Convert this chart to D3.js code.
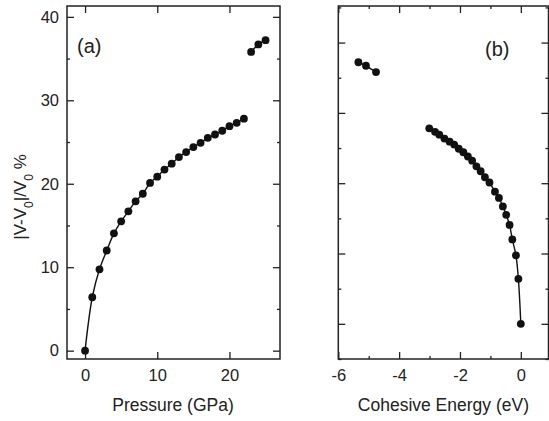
<!DOCTYPE html>
<html>
<head>
<meta charset="utf-8">
<script src="https://cdn.jsdelivr.net/npm/d3@7"></script>
<style>
  body { margin: 0; background: #fff; }
  svg text { font-family: "Liberation Sans", Arial, Helvetica, sans-serif; fill: #222; }
</style>
</head>
<body>
<svg id="chart" width="549" height="421"></svg>
<script>
// pressure (GPa) for each point
var pressure = [0,1,2,3,4,5,6,7,8,9,10,11,12,13,14,15,16,17,18,19,20,21,22, 23,24,25];
// |V-V0|/V0 in %
var volume = [0,6.4,9.75,12.0,14.06,15.5,16.7,17.9,18.8,20.1,20.85,21.7,22.4,23.2,23.8,24.4,24.9,25.5,25.9,26.35,26.9,27.3,27.8, 35.8,36.7,37.2];
// cohesive energy (eV), same points
var cohesive = [0,-0.08,-0.16,-0.28,-0.37,-0.48,-0.59,-0.72,-0.85,-1.03,-1.18,-1.32,-1.46,-1.60,-1.74,-1.89,-2.04,-2.19,-2.34,-2.51,-2.68,-2.82,-3.01, -4.76,-5.09,-5.34];
// the two branches (index ranges)
var branches = [[0, 23], [23, 26]];

var xTicksA = [0, 10, 20];
var xTicksB = [-6, -4, -2, 0];
var yTicks = [0, 10, 20, 30, 40];

var svg = d3.select("#chart");
var fontSize = 16.5;
var plain = function(d){ return String(d); };  // keep hyphen minus like the original

function panel(opts) {
  var g = svg.append("g");
  var x = d3.scaleLinear().domain(opts.xDomain).range([opts.left, opts.right]);
  var y = d3.scaleLinear().domain(opts.yDomain).range([opts.bottom, opts.top]);

  var minorX = d3.range(opts.xDomain[0], opts.xDomain[1], 1).filter(function(v){ return Math.abs(v % opts.xStep) === opts.xStep/2; });
  var minorY = [-5, 5, 15, 25, 35, 45].filter(function(v){ return v >= opts.yDomain[0] && v <= opts.yDomain[1]; });

  function styleAxis(sel) {
    sel.select(".domain").remove();
    sel.selectAll("line").attr("stroke", "#222").attr("stroke-width", 1.3);
    sel.selectAll("text").style("font-size", fontSize + "px").attr("fill", "#222");
  }

  // bottom
  g.append("g").attr("transform", "translate(0," + opts.bottom + ")")
    .call(d3.axisBottom(x).tickValues(opts.xTicks).tickSize(-7).tickPadding(10).tickFormat(plain))
    .call(styleAxis);
  g.append("g").attr("transform", "translate(0," + opts.bottom + ")")
    .call(d3.axisBottom(x).tickValues(minorX).tickSize(-3).tickFormat(""))
    .call(styleAxis);
  // top
  g.append("g").attr("transform", "translate(0," + opts.top + ")")
    .call(d3.axisTop(x).tickValues(opts.xTicks).tickSize(-7).tickFormat(""))
    .call(styleAxis);
  g.append("g").attr("transform", "translate(0," + opts.top + ")")
    .call(d3.axisTop(x).tickValues(minorX).tickSize(-3).tickFormat(""))
    .call(styleAxis);
  // left
  g.append("g").attr("transform", "translate(" + opts.left + ",0)")
    .call(d3.axisLeft(y).tickValues(yTicks).tickSize(-7).tickPadding(8)
      .tickFormat(opts.yLabels ? plain : ""))
    .call(styleAxis);
  g.append("g").attr("transform", "translate(" + opts.left + ",0)")
    .call(d3.axisLeft(y).tickValues(minorY).tickSize(-3).tickFormat(""))
    .call(styleAxis);
  // right
  g.append("g").attr("transform", "translate(" + opts.right + ",0)")
    .call(d3.axisRight(y).tickValues(yTicks).tickSize(-7).tickFormat(""))
    .call(styleAxis);
  g.append("g").attr("transform", "translate(" + opts.right + ",0)")
    .call(d3.axisRight(y).tickValues(minorY).tickSize(-3).tickFormat(""))
    .call(styleAxis);

  // frame
  g.append("rect")
    .attr("x", opts.left).attr("y", opts.top)
    .attr("width", opts.right - opts.left).attr("height", opts.bottom - opts.top)
    .attr("fill", "none").attr("stroke", "#222").attr("stroke-width", 1.5);

  var line = d3.line()
    .x(function(i){ return x(opts.xs[i]); })
    .y(function(i){ return y(volume[i]); })
    .curve(d3.curveCatmullRom);

  branches.forEach(function(b) {
    g.append("path")
      .attr("d", line(d3.range(b[0], b[1])))
      .attr("fill", "none").attr("stroke", "#111").attr("stroke-width", 1.4);
  });

  g.selectAll("circle.pt").data(d3.range(volume.length)).enter()
    .append("circle").attr("class", "pt")
    .attr("cx", function(i){ return x(opts.xs[i]); })
    .attr("cy", function(i){ return y(volume[i]); })
    .attr("r", 3.9)
    .attr("fill", "#111");

  g.append("text")
    .attr("x", opts.tag[0]).attr("y", opts.tag[1])
    .style("font-size", "20px")
    .text(opts.tagText);

  g.append("text")
    .attr("x", (opts.left + opts.right) / 2 + opts.titleShift).attr("y", 411)
    .attr("text-anchor", "middle")
    .style("font-size", "17.5px")
    .text(opts.title);
}

panel({
  left: 67, right: 280, top: 6, bottom: 359,
  xDomain: [-2.5, 27], yDomain: [-1, 41.3], xStep: 10,
  xTicks: xTicksA, xs: pressure, yLabels: true,
  tag: [77, 53], tagText: "(a)",
  title: "Pressure (GPa)", titleShift: -0.5
});

panel({
  left: 338.3, right: 548.5, top: 6, bottom: 359,
  xDomain: [-6, 0.91], yDomain: [-5, 45.2], xStep: 2,
  xTicks: xTicksB, xs: cohesive, yLabels: false,
  tag: [485, 56], tagText: "(b)",
  title: "Cohesive Energy (eV)", titleShift: 0
});

// y axis title with subscripts
var yt = svg.append("text")
  .attr("transform", "translate(26,197) rotate(-90)")
  .attr("text-anchor", "middle")
  .style("font-size", "17px");
yt.append("tspan").text("|V-V");
yt.append("tspan").attr("baseline-shift", "sub").style("font-size", "12px").text("0");
yt.append("tspan").text("|/V");
yt.append("tspan").attr("baseline-shift", "sub").style("font-size", "12px").text("0");
yt.append("tspan").text(" %");
</script>
</body>
</html>
